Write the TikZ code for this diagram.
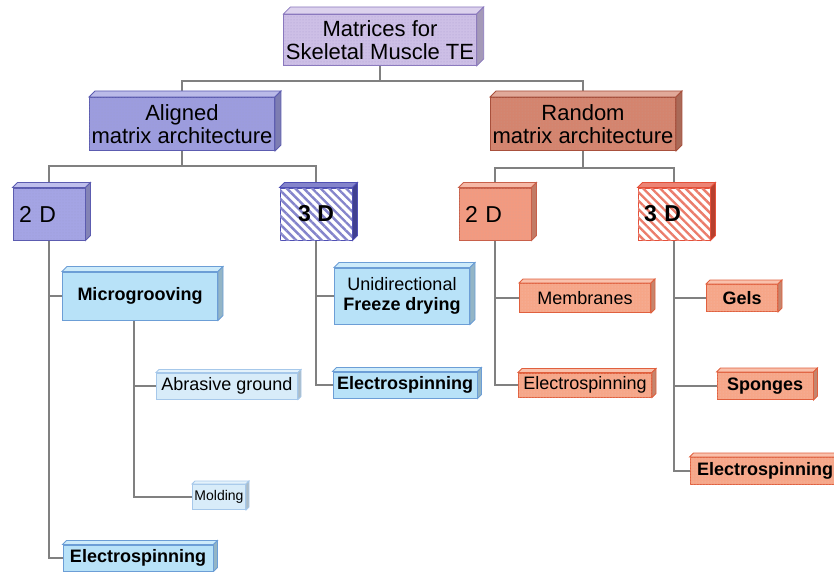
\documentclass[tikz,border=0pt]{standalone}
\usepackage{fontspec}
\setmainfont{Liberation Sans}
\usetikzlibrary{positioning,calc,patterns.meta,backgrounds}

\definecolor{mtfill}{HTML}{CDBFE6}
\definecolor{mtline}{HTML}{8A78BE}
\definecolor{alfill}{HTML}{9C9CDE}
\definecolor{alline}{HTML}{5C5CB0}
\definecolor{rafill}{HTML}{D4846E}
\definecolor{raline}{HTML}{A8503C}
\definecolor{a2fill}{HTML}{A4A4E4}
\definecolor{a3line}{HTML}{5050B4}
\definecolor{r2fill}{HTML}{F29A80}
\definecolor{r2line}{HTML}{C8604A}
\definecolor{r3line}{HTML}{E4503A}
\definecolor{lbfill}{HTML}{B8E2F8}
\definecolor{lbline}{HTML}{6C9ED6}
\definecolor{pbfill}{HTML}{D8ECF9}
\definecolor{pbline}{HTML}{A6C8EA}
\definecolor{lrfill}{HTML}{F6A688}
\definecolor{lrline}{HTML}{E0603E}
\definecolor{linkgray}{HTML}{808080}

\tikzset{
  box/.style={rectangle, draw, line width=1pt, inner sep=2pt},
  head/.style={box, font=\fontsize{22}{23.5}\selectfont, align=center, minimum height=53},
  dim/.style={box, font=\fontsize{23}{25}\selectfont, minimum width=72, minimum height=52},
  dimb/.style={dim, font=\fontsize{23}{25}\selectfont\bfseries},
  leaf/.style={box, font=\fontsize{18}{20}\selectfont, align=center},
  leafb/.style={leaf, font=\fontsize{18}{20}\selectfont\bfseries},
  tex/.style={postaction={pattern={Dots[distance=3pt,radius=.5pt]}, pattern color=#1}},
  stripes/.style={postaction={pattern={Lines[angle=-45,distance=6pt,line width=2.4pt]}, pattern color=#1}},
  link/.style={draw=linkgray, line width=2pt},
}

\begin{document}
\begin{tikzpicture}[x=1pt,y=-1pt]
\useasboundingbox (0,0) rectangle (834,572);

% top levels
\node[head, fill=mtfill, draw=mtline, tex=mtline!70, minimum width=188, minimum height=51] (mt) at (380,40) {Matrices for\\Skeletal Muscle TE};
\node[head, fill=alfill, draw=alline, tex=alline!60, minimum width=182] (al) at (182,124) {Aligned\\matrix architecture};
\node[head, fill=rafill, draw=raline, tex=raline!60, minimum width=180] (ra) at (583,124) {Random\\matrix architecture};

\node[dim, fill=a2fill, draw=alline, tex=alline!60, text width=60, align=left] (a2) at (49,214) {2 D};
\node[dimb, fill=white, draw=a3line, stripes=a3line!70] (a3) at (316,214) {3 D};
\node[dim, fill=r2fill, draw=r2line, tex=r2line!60, text width=60, align=left] (r2) at (495,214) {2 D};
\node[dimb, fill=white, draw=r3line, stripes=r3line!75, text width=60, align=left] (r3) at (674,214) {3 D};

% aligned leaves
\node[leafb, fill=lbfill, draw=lbline, minimum width=155, minimum height=48] (mg) at (140,296) {Microgrooving};
\node[leaf, fill=pbfill, draw=pbline, minimum width=141, minimum height=26] (ag) at (227,386) {Abrasive ground};
\node[leaf, fill=pbfill, draw=pbline, minimum width=53, minimum height=25, font=\fontsize{14}{16}\selectfont] (mo) at (219,497) {Molding};
\node[leafb, fill=lbfill, draw=lbline, minimum width=150, minimum height=26] (ae) at (138,558) {Electrospinning};
\node[leaf, fill=lbfill, draw=lbline, minimum width=135, minimum height=56] (fd) at (402,296) {Unidirectional\\\textbf{Freeze drying}};
\node[leafb, fill=lbfill, draw=lbline, minimum width=144, minimum height=26] (be) at (405,385) {Electrospinning};

% random leaves
\node[leaf, fill=lrfill, draw=lrline, tex=lrline!40, minimum width=131, minimum height=29] (me) at (585,298) {Membranes};
\node[leaf, fill=lrfill, draw=lrline, tex=lrline!40, minimum width=133, minimum height=24] (ce) at (585,385) {Electrospinning};
\node[leafb, fill=lrfill, draw=lrline, tex=lrline!40, minimum width=71, minimum height=27] (ge) at (742,298) {Gels};
\node[leafb, fill=lrfill, draw=lrline, tex=lrline!40, minimum width=96, minimum height=27] (sp) at (765,386) {Sponges};
\node[leafb, fill=lrfill, draw=lrline, tex=lrline!40, minimum width=150, minimum height=27] (de) at (765,471) {Electrospinning};

% depth faces
\foreach \n/\d/\f/\l in {mt/7/mtfill/mtline, al/6/alfill/alline, ra/6/rafill/raline,
    a2/5/a2fill/alline, a3/5/a3line/a3line, r2/5/r2fill/r2line, r3/5/r3line/r3line,
    mg/5/lbfill/lbline, ag/3/pbfill/pbline, mo/3/pbfill/pbline, ae/4/lbfill/lbline,
    fd/5/lbfill/lbline, be/4/lbfill/lbline, me/4/lrfill/lrline, ce/4/lrfill/lrline,
    ge/4/lrfill/lrline, sp/4/lrfill/lrline, de/4/lrfill/lrline}{
  \filldraw[fill=\f!70!white, draw=\l, line width=.8pt] (\n.north west) -- ++(\d,-\d) -- ($(\n.north east)+(\d,-\d)$) -- (\n.north east) -- cycle;
  \filldraw[fill=\f!80!black, draw=\l, line width=.8pt] (\n.north east) -- ($(\n.north east)+(\d,-\d)$) -- ($(\n.south east)+(\d,-\d)$) -- (\n.south east) -- cycle;
}

% connectors
\begin{scope}[on background layer]
\coordinate (b1) at ($(mt.south)+(0,15)$);
\draw[link] (mt.south) -- (b1);
\draw[link] (al.north) |- (b1) -| (ra.north);
\coordinate (b2) at ($(al.south)+(0,15)$);
\draw[link] (al.south) -- (b2);
\draw[link] (a2.north) |- (b2) -| (a3.north);
\coordinate (b3) at ($(ra.south)+(0,17)$);
\draw[link] (ra.south) -- (b3);
\draw[link] (r2.north) |- (b3) -| (r3.north);
\draw[link] (a2.south) |- (mg.west);
\draw[link] (a2.south) |- (ae.west);
\draw[link] ([xshift=-6pt]mg.south) |- (ag.west);
\draw[link] ([xshift=-6pt]mg.south) |- (mo.west);
\draw[link] (a3.south) |- (fd.west);
\draw[link] (a3.south) |- (be.west);
\draw[link] (r2.south) |- (me.west);
\draw[link] (r2.south) |- (ce.west);
\draw[link] (r3.south) |- (ge.west);
\draw[link] (r3.south) |- (sp.west);
\draw[link] (r3.south) |- (de.west);
\end{scope}
\end{tikzpicture}
\end{document}
